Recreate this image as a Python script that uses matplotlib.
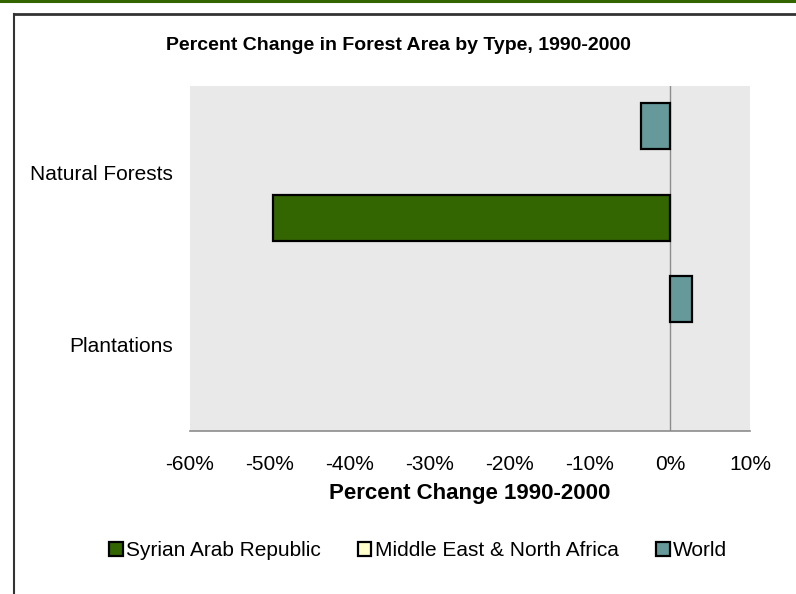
import numpy as np
import matplotlib
matplotlib.use("Agg")
import matplotlib.pyplot as plt
from matplotlib.patches import Patch
from matplotlib.lines import Line2D
from matplotlib.ticker import FuncFormatter

plt.rcParams['font.family'] = ['Liberation Sans', 'DejaVu Sans']

# data
categories = ["Natural Forests", "Plantations"]
series_names = ["Syrian Arab Republic", "Middle East & North Africa", "World"]
syria = [-49.6, np.nan]
mena = [np.nan, np.nan]
world = [-3.6, 2.7]
x_ticks = [-60, -50, -40, -30, -20, -10, 0, 10]

colors = ["#336600", "#FFFFCC", "#669999"]

W, H = 796, 594
fig = plt.figure(figsize=(W / 100, H / 100), dpi=100)

# page decoration: green band on top and the frame lines
fig.add_artist(Line2D([0, 1], [1 - 1.2 / H, 1 - 1.2 / H], color="#336600", lw=2.2))
fig.add_artist(Line2D([14 / W, 1], [1 - 14 / H, 1 - 14 / H], color="#333333", lw=2))
fig.add_artist(Line2D([14 / W, 14 / W], [0, 1 - 14 / H], color="#333333", lw=1.5))

ax = fig.add_axes([190 / W, 1 - 431 / H, 560 / W, 345 / H])
ax.set_facecolor("#E9E9E9")

y = np.arange(len(categories))
h = 0.267
# world on top, syria at the bottom of each group
ax.barh(y - h, world, height=h, color=colors[2], edgecolor="black", linewidth=1.6)
ax.barh(y, mena, height=h, color=colors[1], edgecolor="black", linewidth=1.6)
ax.barh(y + h, syria, height=h, color=colors[0], edgecolor="black", linewidth=1.6)

ax.axvline(0, color="#8C8C8C", lw=1, zorder=0.5)
ax.set_xlim(-60, 10)
ax.set_ylim(1.5, -0.5)
ax.set_xticks(x_ticks)
ax.xaxis.set_major_formatter(FuncFormatter(lambda v, p: f"{v:.0f}%"))
ax.set_yticks(y)
ax.set_yticklabels(categories)
ax.tick_params(axis="x", length=0, pad=17, labelsize=15)
ax.tick_params(axis="y", length=0, pad=12, labelsize=15)
for s in ["top", "right", "left"]:
    ax.spines[s].set_visible(False)
ax.spines["bottom"].set_color("#8C8C8C")
ax.spines["bottom"].set_linewidth(1.2)

ax.set_xlabel("Percent Change 1990-2000", fontsize=16, fontweight="bold", labelpad=7)
fig.text(0.5, 1 - 45 / H, "Percent Change in Forest Area by Type, 1990-2000",
         ha="center", va="center", fontsize=14, fontweight="bold")

handles = [Patch(facecolor=c, edgecolor="black", linewidth=1.6) for c in colors]
fig.legend(handles, series_names, loc="center", bbox_to_anchor=(0.525, 1 - 551 / H),
           ncol=3, frameon=False, fontsize=15, handlelength=0.65, handleheight=0.65,
           handletextpad=0.15, columnspacing=1.8)

fig.savefig("out.png", dpi=100)
